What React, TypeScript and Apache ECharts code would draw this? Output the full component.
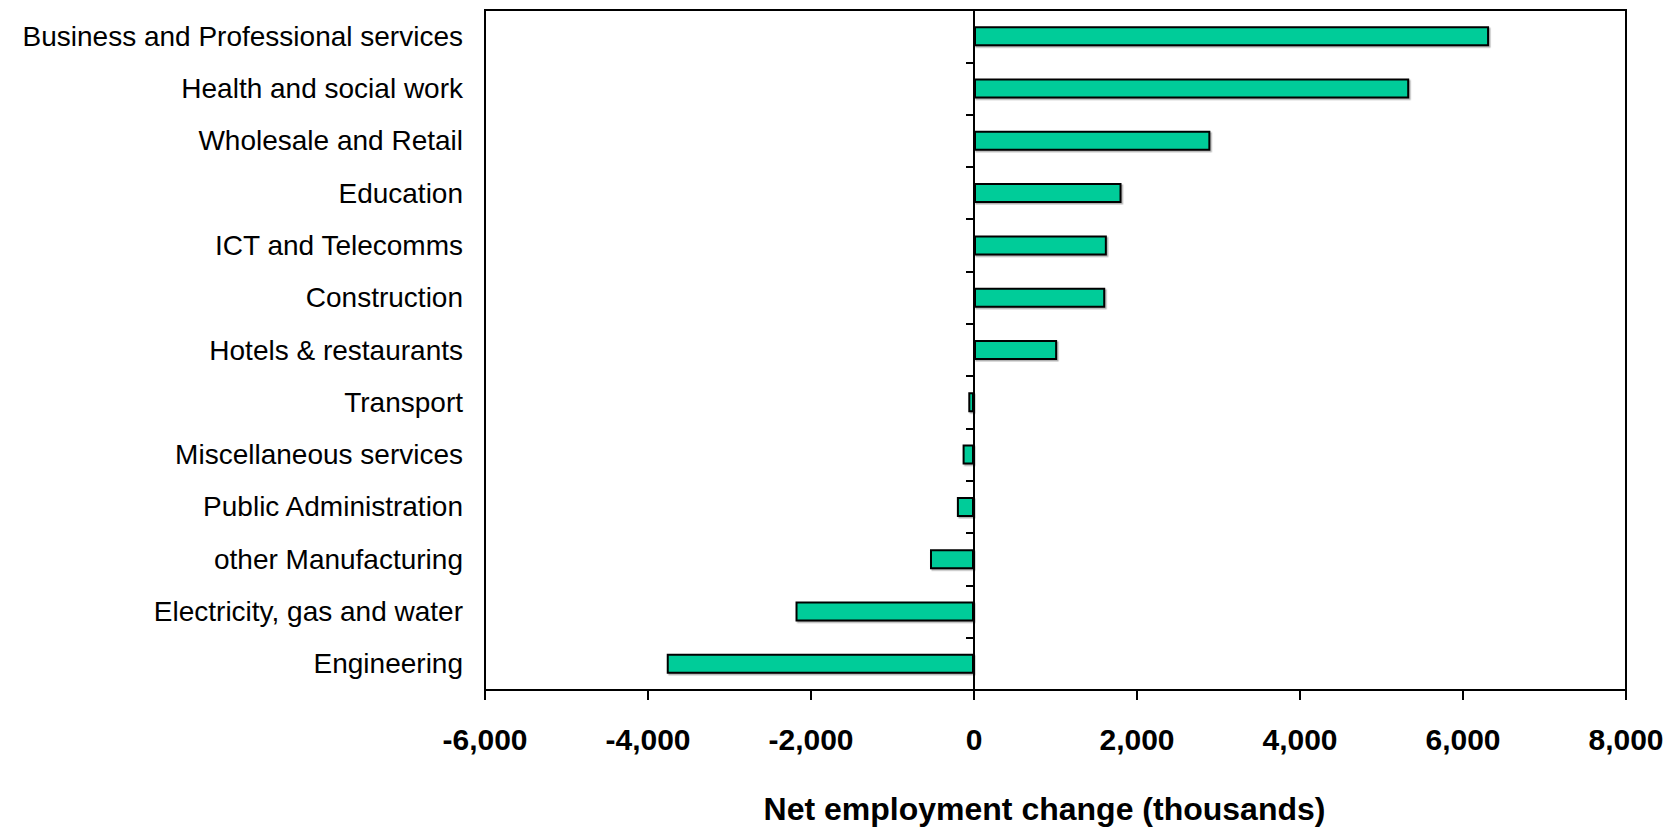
import React, { useEffect, useRef } from "react";
import * as echarts from "echarts";

const categories: string[] = [
  "Business and Professional services",
  "Health and social work",
  "Wholesale and Retail",
  "Education",
  "ICT and Telecomms",
  "Construction",
  "Hotels & restaurants",
  "Transport",
  "Miscellaneous services",
  "Public Administration",
  "other Manufacturing",
  "Electricity, gas and water",
  "Engineering",
];

const netChange: number[] = [6320, 5340, 2900, 1810, 1630, 1610, 1020, -70, -140, -210, -540, -2190, -3770];

const xMin = -6000;
const xMax = 8000;
const xInterval = 2000;
const xTitle = "Net employment change (thousands)";

const FONT = '"Liberation Sans", Arial, sans-serif';

export default function App() {
  const ref = useRef<HTMLDivElement>(null);
  useEffect(() => {
    if (!ref.current) return;
    const chart = echarts.init(ref.current, undefined, { renderer: "svg" });
    chart.setOption({
      animation: false,
      backgroundColor: "#ffffff",
      grid: {
        left: 485,
        right: 47,
        top: 10,
        bottom: 136,
        show: true,
        borderColor: "#000",
        borderWidth: 2,
        backgroundColor: "transparent",
      },
      xAxis: {
        type: "value",
        min: xMin,
        max: xMax,
        interval: xInterval,
        axisLine: { show: true, onZero: false, lineStyle: { color: "#000", width: 2 } },
        axisTick: { show: true, inside: false, length: 10, lineStyle: { color: "#000", width: 2 } },
        splitLine: { show: false },
        axisLabel: {
          color: "#000",
          fontFamily: FONT,
          fontWeight: "bold",
          fontSize: 30,
          margin: 34,
          formatter: (v: number) => v.toLocaleString("en-US"),
        },
        name: xTitle,
        nameLocation: "middle",
        nameGap: 103,
        nameTextStyle: {
          color: "#000",
          fontFamily: FONT,
          fontWeight: "bold",
          fontSize: 32,
          padding: [0, 22, 0, 0],
        },
      },
      yAxis: [
        {
          type: "category",
          data: categories,
          inverse: true,
          position: "left",
          axisLine: { show: false, onZero: false },
          axisTick: { show: false },
          splitLine: { show: false },
          axisLabel: {
            color: "#000",
            fontFamily: FONT,
            fontSize: 28,
            margin: 22,
          },
        },
        {
          type: "category",
          data: categories,
          inverse: true,
          position: "left",
          axisLine: { show: true, onZero: true, onZeroAxisIndex: 0, lineStyle: { color: "#000", width: 2 } },
          axisTick: { show: true, inside: false, length: 8, interval: 0, lineStyle: { color: "#000", width: 2 } },
          axisLabel: { show: false },
          splitLine: { show: false },
        },
      ],
      series: [
        {
          type: "bar",
          yAxisIndex: 0,
          data: netChange,
          barWidth: 20,
          itemStyle: {
            color: "#00CC99",
            borderColor: "#000",
            borderWidth: 2,
            shadowColor: "rgba(0,0,0,0.3)",
            shadowOffsetX: 1.5,
            shadowOffsetY: 1.5,
            shadowBlur: 0,
          },
        },
      ],
    });
    return () => chart.dispose();
  }, []);
  return (
    <div
      ref={ref}
      style={{ position: "fixed", left: 0, top: 0, width: 1673, height: 830, background: "#fff" }}
    />
  );
}
